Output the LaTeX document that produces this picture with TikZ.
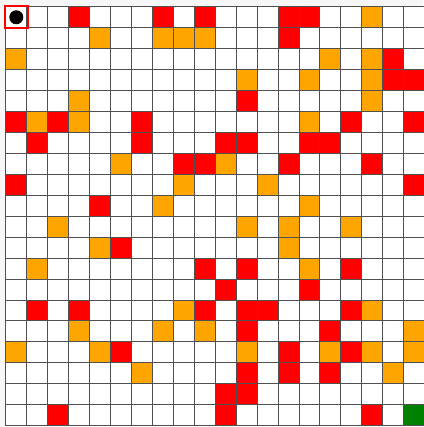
\documentclass[tikz,border=0pt]{standalone}
\definecolor{cellred}{HTML}{FF0000}
\definecolor{cellorange}{HTML}{FFA500}
\definecolor{cellgreen}{HTML}{008000}
\definecolor{gridline}{HTML}{505050}
\begin{document}
\begin{tikzpicture}[x=1pt,y=-1pt,
  redcell/.style={fill=cellred},
  orangecell/.style={fill=cellorange},
  greencell/.style={fill=cellgreen},
  gridrule/.style={draw=gridline,line width=0.85pt},
  startmark/.style={draw=cellred,line width=2.2pt},
  agent/.style={fill=black}]
\def\cs{20.94}
\def\ox{5.8}
\def\oy{6.8}
\useasboundingbox (0,0) rectangle (423,427);
\fill[gray!6] (0,0) rectangle (423,427);
\fill[white] (\ox,\oy) rectangle (423,427);
% red cells (row/col)
\foreach \r/\c in {0/3,0/7,0/9,0/13,0/14,1/13,2/18,3/18,3/19,4/11,
  5/0,5/2,5/6,5/16,5/19,6/1,6/6,6/10,6/11,6/14,6/15,7/8,7/9,7/13,7/17,
  8/0,8/19,9/4,11/5,12/9,12/11,12/16,13/10,13/14,
  14/1,14/3,14/9,14/11,14/12,14/16,15/11,15/15,16/5,16/13,16/16,
  17/11,17/13,17/15,18/10,18/11,19/2,19/10,19/17}
  \path[redcell] ({\ox+\c*\cs},{\oy+\r*\cs}) rectangle +(\cs,\cs);
% orange cells
\foreach \r/\c in {0/17,1/4,1/7,1/8,1/9,2/0,2/15,2/17,3/11,3/14,3/17,
  4/3,4/17,5/1,5/3,5/14,7/5,7/10,8/8,8/12,9/7,9/14,
  10/2,10/11,10/13,10/16,11/4,11/13,12/1,12/14,14/8,14/17,
  15/3,15/7,15/9,15/19,16/0,16/4,16/11,16/15,16/17,16/19,17/6,17/18}
  \path[orangecell] ({\ox+\c*\cs},{\oy+\r*\cs}) rectangle +(\cs,\cs);
% goal cell
\path[greencell] ({\ox+19*\cs},{\oy+19*\cs}) rectangle +(\cs,\cs);
% grid lines
\foreach \i in {0,...,20} {
  \draw[gridrule] ({\ox+\i*\cs},\oy) -- ({\ox+\i*\cs},{\oy+20*\cs});
  \draw[gridrule] (\ox,{\oy+\i*\cs}) -- ({\ox+20*\cs},{\oy+\i*\cs});
}
% start marker
\draw[startmark] (5.2,5.8) rectangle (27.6,28.0);
\fill[agent] ({\ox+0.5*\cs},{\oy+0.5*\cs}) circle (7);
\end{tikzpicture}
\end{document}
